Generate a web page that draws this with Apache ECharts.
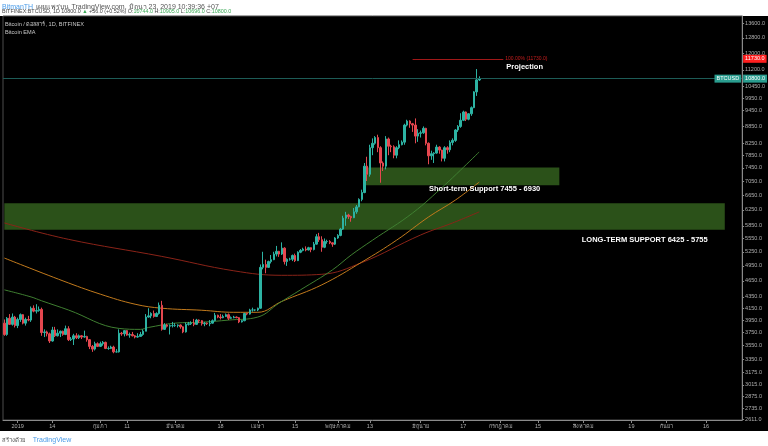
<!DOCTYPE html>
<html>
<head>
<meta charset="utf-8">
<script src="https://cdn.jsdelivr.net/npm/echarts@6/dist/echarts.min.js"></script>
<style>
  html, body { margin: 0; padding: 0; background: #fff; }
  #chart { width: 768px; height: 446px; }
</style>
</head>
<body>
<div id="chart"></div>
<script>
// daily candles, BITFINEX:BTCUSD, 2018-12-27 .. 2019-06-23
const opens = [
  3900, 3720, 3980, 3880, 4000,
  3860, 3960, 4040, 3900, 3960, 3950, 4150, 4100, 4110, 4130, 3750, 3760, 3730, 3620, 3790, 3700, 3740, 3770, 3720, 3810, 3640, 3650, 3700, 3670, 3700, 3680, 3690, 3640, 3540, 3500, 3580,
  3540, 3580, 3600, 3510, 3510, 3530, 3460, 3460, 3740, 3730, 3780, 3710, 3720, 3700, 3680, 3690, 3720, 3770, 4000, 4020, 4060, 4010, 4060, 4200, 3800, 3870, 3850, 3860,
  3860, 3860, 3870, 3840, 3760, 3880, 3890, 3900, 3880, 3950, 3940, 3890, 3900, 3890, 3900, 3940, 4030, 4000, 3990, 4010, 4040, 3980, 3990, 4000, 3990, 3920, 3940, 4060, 4050, 4120, 4120,
  4120, 4150, 4920, 4980, 4920, 5040, 5080, 5200, 5260, 5200, 5330, 5040, 5090, 5090, 5170, 5060, 5240, 5280, 5310, 5290, 5340, 5300, 5420, 5590, 5520, 5350, 5480, 5480, 5450, 5420,
  5560, 5620, 5770, 6040, 6120, 6080, 6050, 6200, 6330, 6530, 6720, 7500, 7250, 8100, 8250, 8450, 8100, 7600, 7500, 8400, 8150, 8130, 7850, 8100, 8200, 8290, 8900, 9050, 8950, 8900, 8500,
  8600, 8620, 8780, 8250, 7830, 7900, 7920, 8120, 8020, 7750, 8100, 8030, 8280, 8350, 8720, 8850, 9080, 9400, 9120, 9330, 9570, 10220, 10744
];
const highs = [
  3960, 4000, 4050, 4060, 4020,
  3990, 4060, 4050, 3990, 4020, 4180, 4200, 4220, 4180, 4160, 3800, 3780, 3750, 3840, 3840, 3800, 3780, 3780, 3860, 3850, 3680, 3730, 3740, 3720, 3710, 3780, 3700, 3650, 3560, 3610, 3600,
  3610, 3620, 3610, 3540, 3550, 3550, 3500, 3800, 3760, 3790, 3790, 3750, 3760, 3710, 3740, 3760, 3800, 4050, 4150, 4080, 4110, 4080, 4250, 4280, 3900, 3890, 3880, 3920,
  3900, 3880, 3880, 3850, 3910, 3920, 3930, 3970, 3970, 3960, 3950, 3920, 3910, 3950, 3960, 4070, 4040, 4050, 4040, 4060, 4060, 4010, 4020, 4010, 4000, 3950, 4070, 4070, 4140, 4160, 4130,
  4160, 4980, 5250, 5080, 5060, 5180, 5250, 5380, 5270, 5460, 5350, 5110, 5120, 5190, 5210, 5260, 5310, 5340, 5370, 5360, 5350, 5470, 5650, 5680, 5600, 5550, 5520, 5510, 5460, 5580,
  5650, 5800, 6100, 6200, 6150, 6100, 6300, 6380, 6560, 6800, 7600, 7800, 8200, 8420, 8500, 8550, 8150, 7650, 8500, 8450, 8200, 8180, 8150, 8350, 8350, 8950, 9100, 9080, 8980, 9150, 8750,
  8700, 8850, 8800, 8280, 8000, 7950, 8200, 8150, 8030, 8150, 8150, 8350, 8420, 8750, 8900, 9350, 9450, 9420, 9350, 9620, 10250, 11240, 10905
];
const lows = [
  3700, 3700, 3870, 3860, 3830,
  3820, 3920, 3880, 3860, 3930, 3920, 4080, 4060, 4090, 3700, 3680, 3690, 3590, 3610, 3680, 3690, 3680, 3700, 3710, 3620, 3620, 3560, 3650, 3650, 3650, 3670, 3610, 3500, 3460, 3480, 3530,
  3530, 3550, 3500, 3490, 3500, 3440, 3450, 3450, 3700, 3690, 3700, 3670, 3690, 3660, 3670, 3690, 3700, 3770, 3990, 3980, 3990, 4000, 4040, 3780, 3790, 3830, 3720, 3830,
  3840, 3830, 3810, 3740, 3750, 3860, 3870, 3850, 3870, 3900, 3860, 3850, 3870, 3850, 3890, 3930, 3980, 3960, 3980, 4000, 3950, 3970, 3980, 3980, 3900, 3910, 3930, 4030, 4040, 4090, 4100,
  4100, 4140, 4880, 4800, 4910, 5000, 5070, 5150, 5140, 5180, 4980, 4950, 5060, 5050, 5030, 5050, 5220, 5260, 5260, 5280, 5240, 5280, 5410, 5470, 5250, 5330, 5430, 5420, 5360, 5400,
  5540, 5600, 5750, 5850, 6020, 5950, 6040, 6150, 6320, 6480, 6700, 7050, 7180, 7850, 8200, 7950, 7000, 7350, 7400, 7850, 7950, 7750, 7750, 8050, 8180, 8200, 8850, 8800, 8650, 8250, 8300,
  8450, 8580, 8180, 7560, 7700, 7600, 7900, 7900, 7650, 7650, 7900, 7950, 8180, 8300, 8650, 8800, 9050, 9050, 9080, 9250, 9550, 10050, 10696
];
const closes = [
  3720, 3980, 3880, 4000, 3860,
  3960, 4040, 3900, 3960, 3950, 4150, 4100, 4110, 4130, 3750, 3760, 3730, 3620, 3790, 3700, 3740, 3770, 3720, 3810, 3640, 3650, 3700, 3670, 3700, 3680, 3690, 3640, 3540, 3500, 3580, 3540,
  3580, 3600, 3510, 3510, 3530, 3460, 3460, 3740, 3730, 3780, 3710, 3720, 3700, 3680, 3690, 3720, 3770, 4000, 4020, 4060, 4010, 4060, 4200, 3800, 3870, 3850, 3860, 3860,
  3860, 3870, 3840, 3760, 3880, 3890, 3900, 3880, 3950, 3940, 3890, 3900, 3890, 3900, 3940, 4030, 4000, 3990, 4010, 4040, 3980, 3990, 4000, 3990, 3920, 3940, 4060, 4050, 4120, 4120, 4120,
  4150, 4920, 4980, 4920, 5040, 5080, 5200, 5260, 5200, 5330, 5040, 5090, 5090, 5170, 5060, 5240, 5280, 5310, 5290, 5340, 5300, 5420, 5590, 5520, 5350, 5480, 5480, 5450, 5420, 5560,
  5620, 5770, 6040, 6120, 6080, 6050, 6200, 6330, 6530, 6720, 7500, 7250, 8100, 8250, 8450, 8100, 7600, 7500, 8400, 8150, 8130, 7850, 8100, 8200, 8290, 8900, 9050, 8950, 8900, 8500, 8600,
  8620, 8780, 8250, 7830, 7900, 7920, 8120, 8020, 7750, 8100, 8030, 8280, 8350, 8720, 8850, 9080, 9400, 9120, 9330, 9570, 10220, 10744, 10800
];

// EMA lines
const emaFastDates = ['2018-12-27', '2019-01-06', '2019-01-10', '2019-01-20', '2019-02-08', '2019-02-16', '2019-02-19', '2019-03-01', '2019-03-11', '2019-03-21', '2019-04-01', '2019-04-09', '2019-04-17', '2019-04-29', '2019-05-06', '2019-05-14', '2019-05-29', '2019-06-10', '2019-06-16', '2019-06-23'];
const emaFastValues = [4480, 4350, 4280, 4120, 3815, 3800, 3830, 3900, 3915, 3950, 4000, 4240, 4480, 4870, 5180, 5510, 6170, 6930, 7380, 7960];
const emaMidDates = ['2018-12-27', '2019-01-18', '2019-02-01', '2019-02-14', '2019-02-24', '2019-03-11', '2019-03-23', '2019-04-01', '2019-04-10', '2019-04-25', '2019-05-10', '2019-05-23', '2019-06-04', '2019-06-14', '2019-06-23'];
const emaMidValues = [5115, 4650, 4400, 4220, 4150, 4115, 4080, 4080, 4270, 4575, 5030, 5510, 6070, 6510, 7020];
const emaSlowDates = ['2018-12-27', '2019-01-20', '2019-02-24', '2019-03-23', '2019-04-10', '2019-04-25', '2019-05-10', '2019-06-01', '2019-06-13', '2019-06-23'];
const emaSlowValues = [5920, 5530, 5150, 4850, 4760, 4780, 5020, 5630, 5920, 6200];

// annotations
const lastPrice = 10800;
const projectionPrice = 11730;
const shortSupport = [7455, 6930];
const longSupport = [6425, 5755];

// axis ticks
const yTicks = [13600, 12800, 12000, 11200, 10450, 9950, 9450, 8850, 8250, 7850, 7450, 7050, 6650, 6250, 5850, 5550, 5250, 4950, 4650, 4350, 4150, 3950, 3750, 3550, 3350, 3175, 3015, 2875, 2735, 2611];
const xTickDates = ['2019-01-01', '2019-01-14', '2019-02-01', '2019-02-11', '2019-03-01', '2019-03-18', '2019-04-01', '2019-04-15', '2019-05-01', '2019-05-13', '2019-06-01', '2019-06-17', '2019-07-01', '2019-07-15', '2019-08-01', '2019-08-19', '2019-09-01', '2019-09-16'];
const xTickLabels = ['2019', '14', 'กุมภา', '11', 'มีนาคม', '18', 'เมษา', '15', 'พฤษภาคม', '13', 'มิถุนาย', '17', 'กรกฎาคม', '15', 'สิงหาคม', '19', 'กันยา', '16'];

// calendar days shown on the x axis (candles plus empty space to the right)
const dates = [];
for (let i = 0; i < 277; i++) {
  dates.push(new Date(Date.UTC(2018, 11, 27 + i)).toISOString().slice(0, 10));
}

const candleData = closes.map((c, i) => [opens[i], c, lows[i], highs[i]]);
const pairs = (ds, vs) => ds.map((d, i) => [d, vs[i]]);

const upColor = '#2db3a3';
const downColor = '#e5474f';
const hidden = { color: 'rgba(0,0,0,0)', width: 0 };
const isTick = (idx, val) => xTickDates.indexOf(val) !== -1;
const labelFont = 'Liberation Sans, Arial, sans-serif';

const chart = echarts.init(document.getElementById('chart'));
chart.setOption({
  backgroundColor: '#fff',
  animation: false,
  textStyle: { fontFamily: labelFont },
  graphic: [
    { type: 'rect', z: -10, silent: true, shape: { x: 0, y: 16, width: 768, height: 415 }, style: { fill: '#000' } },
    {
      type: 'text', left: 2, top: 1, silent: true,
      style: {
        text: '{a|BitmanTH} {b|เผยแพร่บน TradingView.com, มิถุนา 23, 2019 10:39:36 +07}',
        rich: {
          a: { fill: '#4a9be8', fontSize: 7, fontFamily: labelFont },
          b: { fill: '#555', fontSize: 7, fontFamily: labelFont }
        }
      }
    },
    {
      type: 'text', left: 2, top: 9, silent: true,
      style: {
        text: '{d|BITFINEX:BTCUSD, 1D 10800.0 }{g|▲}{d| +56.0 (+0.52%) O:}{g|10744.0}{d| H:}{g|10905.0}{d| L:}{g|10696.0}{d| C:}{g|10800.0}',
        rich: {
          d: { fill: '#444', fontSize: 5.4, fontFamily: labelFont },
          g: { fill: '#3aa856', fontSize: 5.4, fontFamily: labelFont }
        }
      }
    },
    { type: 'text', left: 5, top: 21, silent: true, style: { text: 'Bitcoin / ดอลลาร์, 1D, BITFINEX', fill: '#c8c8c8', fontSize: 5.6, fontFamily: labelFont } },
    { type: 'text', left: 5, top: 29, silent: true, style: { text: 'Bitcoin EMA', fill: '#c8c8c8', fontSize: 5.6, fontFamily: labelFont } },
    {
      type: 'text', left: 2, top: 434, silent: true,
      style: {
        text: '{d|สร้างด้วย}  {t|TradingView}',
        rich: {
          d: { fill: '#555', fontSize: 6, fontFamily: labelFont },
          t: { fill: '#4a9be8', fontSize: 7, fontFamily: labelFont }
        }
      }
    }
  ],
  grid: {
    left: 3, right: 25, top: 16, bottom: 26,
    show: true, borderColor: '#4d4d4d', borderWidth: 1, backgroundColor: 'transparent'
  },
  xAxis: {
    type: 'category',
    data: dates,
    boundaryGap: true,
    axisLine: { show: true, lineStyle: { color: '#8a8a8a' } },
    axisTick: { show: true, interval: isTick, alignWithLabel: true, length: 3, lineStyle: { color: '#8a8a8a' } },
    axisLabel: {
      interval: isTick,
      fontSize: 5.5,
      color: '#b0b0b0',
      margin: 3,
      formatter: v => xTickLabels[xTickDates.indexOf(v)]
    },
    splitLine: { show: false }
  },
  yAxis: {
    type: 'log',
    position: 'right',
    min: 2605,
    max: 14020,
    axisLine: { show: true, lineStyle: { color: '#8a8a8a' } },
    axisTick: { show: true, customValues: yTicks, length: 2, lineStyle: { color: '#8a8a8a' } },
    axisLabel: {
      customValues: yTicks,
      fontSize: 5.5,
      color: '#b0b0b0',
      margin: 3,
      formatter: v => Number(v).toFixed(1)
    },
    splitLine: { show: false }
  },
  series: [
    {
      name: 'zones',
      type: 'line',
      data: [],
      z: 1,
      markArea: {
        silent: true,
        itemStyle: { color: '#2b5119' },
        data: [
          [{ coord: ['2018-12-27', longSupport[0]] }, { coord: ['2019-09-23', longSupport[1]] }],
          [{ coord: ['2019-05-11', shortSupport[0]] }, { coord: ['2019-07-23', shortSupport[1]] }]
        ]
      }
    },
    {
      name: 'EMA slow',
      type: 'line',
      z: 2,
      showSymbol: false,
      smooth: 0.4,
      data: pairs(emaSlowDates, emaSlowValues),
      lineStyle: { color: '#8a2318', width: 1 }
    },
    {
      name: 'EMA mid',
      type: 'line',
      z: 2,
      showSymbol: false,
      smooth: 0.4,
      data: pairs(emaMidDates, emaMidValues),
      lineStyle: { color: '#c27a1c', width: 1 }
    },
    {
      name: 'EMA fast',
      type: 'line',
      z: 2,
      showSymbol: false,
      smooth: 0.4,
      data: pairs(emaFastDates, emaFastValues),
      lineStyle: { color: '#3f7f31', width: 1 }
    },
    {
      name: 'BTCUSD',
      type: 'candlestick',
      z: 3,
      barWidth: 2,
      data: candleData,
      itemStyle: {
        color: upColor, color0: downColor,
        borderColor: upColor, borderColor0: downColor, borderColorDoji: upColor,
        borderWidth: 1
      },
      markLine: {
        silent: true,
        symbol: ['none', 'none'],
        animation: false,
        data: [
          {
            yAxis: lastPrice,
            lineStyle: { color: '#1d5c57', type: 'solid', width: 1 },
            label: { position: 'end', distance: 1, formatter: '10800.0', backgroundColor: '#2a9d8f', color: '#fff', fontSize: 5.5, padding: [1, 2] }
          },
          {
            yAxis: lastPrice,
            lineStyle: hidden,
            label: { position: 'insideEnd', distance: 1, formatter: 'BTCUSD', backgroundColor: '#2a9d8f', color: '#fff', fontSize: 5.5, padding: [1, 2] }
          },
          {
            yAxis: projectionPrice,
            lineStyle: hidden,
            label: { position: 'end', distance: 1, formatter: '11730.0', backgroundColor: '#ff1f1f', color: '#fff', fontSize: 5.5, padding: [1, 2] }
          },
          [
            {
              coord: ['2019-05-29', projectionPrice],
              lineStyle: { color: '#a01818', type: 'solid', width: 1 },
              label: { position: 'end', distance: 2, formatter: '100.00% (11730.0)', color: '#c81e1e', fontSize: 5 }
            },
            { coord: ['2019-07-02', projectionPrice] }
          ]
        ]
      },
      markPoint: {
        silent: true,
        animation: false,
        symbol: 'rect',
        symbolSize: 1,
        itemStyle: { color: 'rgba(0,0,0,0)' },
        label: { show: true, position: 'inside', color: '#fff', fontWeight: 'bold', fontSize: 7.5, formatter: p => p.name },
        data: [
          { name: 'Projection', coord: ['2019-07-10', 11340] },
          { name: 'Short-term Support 7455 - 6930', coord: ['2019-06-25', 6820] },
          { name: 'LONG-TERM SUPPORT 6425 - 5755', coord: ['2019-08-24', 5510] }
        ]
      }
    }
  ]
});
</script>
</body>
</html>
